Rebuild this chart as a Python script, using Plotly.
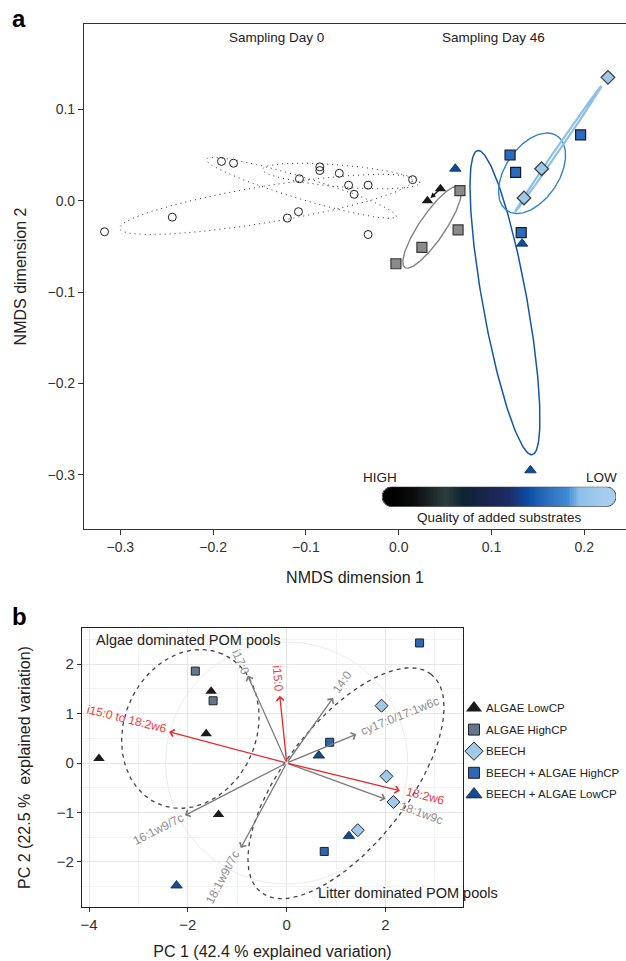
import numpy as np
import plotly.graph_objects as go

W, H = 626, 961
FONT = "Liberation Sans, Arial, sans-serif"

# ---------------- Panel a : NMDS ----------------
day0_x = [-0.317, -0.244, -0.191, -0.178, -0.085, -0.085, -0.064, -0.107, -0.054, -0.033, -0.048, 0.015, -0.108, -0.120, -0.033]
day0_y = [-0.034, -0.018, 0.043, 0.041, 0.037, 0.033, 0.030, 0.024, 0.017, 0.017, 0.007, 0.023, -0.012, -0.019, -0.037]

a_algae_low_x = [0.031, 0.045]
a_algae_low_y = [0.000, 0.013]
a_algae_high_x = [0.066, 0.064, 0.025, -0.003]
a_algae_high_y = [0.011, -0.032, -0.051, -0.069]
a_beech_x = [0.2255, 0.154, 0.135]
a_beech_y = [0.135, 0.035, 0.003]
a_mix_high_x = [0.120, 0.126, 0.132, 0.196]
a_mix_high_y = [0.050, 0.031, -0.035, 0.072]
a_mix_low_x = [0.061, 0.133, 0.142]
a_mix_low_y = [0.035, -0.047, -0.295]

# ellipses: centre x, centre y, semi-major, semi-minor, angle (deg)
day0_ellipses = [(-0.143, -0.004, 0.160, 0.020, 9.5),
                 (-0.105, 0.014, 0.107, 0.012, -17.0),
                 (-0.062, 0.027, 0.085, 0.012, -5.0)]
ell_algae_high = (0.036, -0.029, 0.053, 0.014, 56.4)
ell_mix_low = (0.1145, -0.1115, 0.169, 0.024, 100.0)
ell_mix_high = (0.1437, 0.030, 0.049, 0.029, 57.0)
ell_beech = (0.172, 0.0568, 0.083, 0.002, 55.9)

x_ticks_a = [-0.3, -0.2, -0.1, 0.0, 0.1, 0.2]
x_labels_a = ["\u22120.3", "\u22120.2", "\u22120.1", "0.0", "0.1", "0.2"]
y_ticks_a = [-0.3, -0.2, -0.1, 0.0, 0.1]
y_labels_a = ["\u22120.3", "\u22120.2", "\u22120.1", "0.0", "0.1"]

quality_stops = [0.0, 0.10, 0.25, 0.33, 0.45, 0.55, 0.64, 0.73, 0.82, 0.88, 1.0]
quality_colors = ["#000000", "#0b0c0c", "#2c3e3e", "#0c2331", "#1a2550", "#1e2c68",
                  "#0b4fa5", "#2e6ebe", "#3d8ad2", "#8ec0ea", "#a7ceee"]

# ---------------- Panel b : PCA ----------------
b_algae_low_x = [-3.80, -1.53, -1.63, -1.38]
b_algae_low_y = [0.09, 1.45, 0.59, -1.04]
b_algae_high_x = [-1.85, -1.49]
b_algae_high_y = [1.86, 1.26]
b_beech_x = [1.92, 2.02, 2.16, 1.44]
b_beech_y = [1.16, -0.27, -0.79, -1.36]
b_mix_high_x = [2.69, 0.87, 0.76]
b_mix_high_y = [2.43, 0.42, -1.79]
b_mix_low_x = [0.65, 1.26, -2.23]
b_mix_low_y = [0.15, -1.48, -2.48]

load_names = ["i17:0", "14:0", "cy17:0/17:1w6c", "18:1w9c", "16:1w9/7c", "18:1w9t/7c",
              "i15:0", "18:2w6", "i15:0 to 18:2w6"]
load_x = [-0.79, 0.94, 1.41, 2.00, -2.06, -0.93, -0.14, 2.29, -2.38]
load_y = [1.77, 1.32, 0.58, -0.73, -1.06, -1.72, 1.36, -0.56, 0.63]
load_red = [False, False, False, False, False, False, True, True, True]

ell_algae_pool = (-1.95, 0.69, 1.65, 1.34, 67.0)
ell_litter_pool = (1.20, -0.41, 2.80, 1.25, 52.0)
corr_radius = 2.45

x_ticks_b = [-4, -2, 0, 2]
x_labels_b = ["\u22124", "\u22122", "0", "2"]
y_ticks_b = [-2, -1, 0, 1, 2]
y_labels_b = ["\u22122", "\u22121", "0", "1", "2"]

legend_names = ["ALGAE LowCP", "ALGAE HighCP", "BEECH", "BEECH + ALGAE HighCP", "BEECH + ALGAE LowCP"]


def ellipse(p, n=241):
    cx, cy, a, b, deg = p
    t = np.linspace(0, 2 * np.pi, n)
    th = np.deg2rad(deg)
    x = cx + a * np.cos(t) * np.cos(th) - b * np.sin(t) * np.sin(th)
    y = cy + a * np.cos(t) * np.sin(th) + b * np.sin(t) * np.cos(th)
    return x, y


def px(xp):
    return xp / W


def py(yp):
    return 1 - yp / H


fig = go.Figure()

# ---- panel a traces ----
for p in day0_ellipses:
    ex, ey = ellipse(p)
    fig.add_trace(go.Scatter(x=ex, y=ey, mode="lines", line=dict(color="#333333", width=1, dash="1px,4px"),
                             hoverinfo="skip", showlegend=False, xaxis="x", yaxis="y"))
fig.add_trace(go.Scatter(x=day0_x, y=day0_y, mode="markers", showlegend=False,
                         marker=dict(symbol="circle-open", size=8, color="#222222", line=dict(width=1)),
                         xaxis="x", yaxis="y"))

for p, col, w in [(ell_algae_high, "#858585", 1.4), (ell_mix_low, "#1457a8", 1.5),
                  (ell_mix_high, "#2f82cc", 1.4), (ell_beech, "#8ebfe8", 2.2)]:
    ex, ey = ellipse(p)
    fig.add_trace(go.Scatter(x=ex, y=ey, mode="lines", line=dict(color=col, width=w),
                             hoverinfo="skip", showlegend=False, xaxis="x", yaxis="y"))

fig.add_trace(go.Scatter(x=a_algae_high_x, y=a_algae_high_y, mode="markers", showlegend=False,
                         marker=dict(symbol="square", size=10, color="#8a8a8a", line=dict(color="#3a3a3a", width=1.2))))
fig.add_trace(go.Scatter(x=a_mix_high_x, y=a_mix_high_y, mode="markers", showlegend=False,
                         marker=dict(symbol="square", size=10, color="#2a6bbf", line=dict(color="#1a1a1a", width=1.2))))
fig.add_trace(go.Scatter(x=a_beech_x, y=a_beech_y, mode="markers", showlegend=False,
                         marker=dict(symbol="diamond", size=10.5, color="#9ecae9", line=dict(color="#3a3a3a", width=1.2))))
fig.add_trace(go.Scatter(x=a_mix_low_x, y=a_mix_low_y, mode="markers", showlegend=False,
                         marker=dict(symbol="triangle-up", size=10, color="#0e4d9c", line=dict(color="#0a2a55", width=0.8))))
fig.add_trace(go.Scatter(x=a_algae_low_x, y=a_algae_low_y, mode="markers", showlegend=False,
                         marker=dict(symbol="triangle-up", size=10, color="#1a1a1a", line=dict(width=0))))

# ---- gradient bar (quality of added substrates) ----
nbar = 120
fig.add_trace(go.Heatmap(z=[list(np.linspace(0, 1, nbar))], x0=392 + 214 / nbar / 2, dx=214 / nbar,
                         y0=496.7, dy=20, colorscale=[[s, c] for s, c in zip(quality_stops, quality_colors)],
                         zmin=0, zmax=1, showscale=False, hoverinfo="skip", xaxis="x3", yaxis="y3"))

# ---- panel b traces ----
cx_, cy_ = ellipse((0, 0, corr_radius, corr_radius, 0))
fig.add_trace(go.Scatter(x=cx_, y=cy_, mode="lines", line=dict(color="#ececec", width=1),
                         hoverinfo="skip", showlegend=False, xaxis="x2", yaxis="y2"))
for p in [ell_algae_pool, ell_litter_pool]:
    ex, ey = ellipse(p)
    fig.add_trace(go.Scatter(x=ex, y=ey, mode="lines", line=dict(color="#444444", width=1.3, dash="4px,4px"),
                             hoverinfo="skip", showlegend=False, xaxis="x2", yaxis="y2"))

b_specs = [
    (b_algae_low_x, b_algae_low_y, "triangle-up", 10, 14, "#1a1a1a", "#1a1a1a", 0),
    (b_algae_high_x, b_algae_high_y, "square", 8, 11, "#65768c", "#222222", 1),
    (b_beech_x, b_beech_y, "diamond", 10, 14, "#a2c9ea", "#222222", 1),
    (b_mix_high_x, b_mix_high_y, "square", 8, 11, "#2d67b2", "#222222", 1),
    (b_mix_low_x, b_mix_low_y, "triangle-up", 10, 14, "#174b8c", "#0c2446", 0.8),
]
for name, (xs, ys, sym, sz, lsz, col, lc, lw) in zip(legend_names, b_specs):
    fig.add_trace(go.Scatter(x=xs, y=ys, mode="markers", name=name, showlegend=False,
                             marker=dict(symbol=sym, size=sz, color=col, line=dict(color=lc, width=lw)),
                             xaxis="x2", yaxis="y2"))

# ---- key for panel b (markers on a small axis of its own, labels as annotations) ----
key_y = [708 + 21.6 * i for i in range(len(legend_names))]
for name, yk, (xs, ys, sym, sz, lsz, col, lc, lw) in zip(legend_names, key_y, b_specs):
    fig.add_trace(go.Scatter(x=[474], y=[yk], mode="markers", name=name, showlegend=False,
                             marker=dict(symbol=sym, size=lsz, color=col, line=dict(color=lc, width=lw)),
                             cliponaxis=False, hoverinfo="skip", xaxis="x4", yaxis="y4"))

# ---------------- annotations ----------------
ann = []
for name, yk in zip(legend_names, key_y):
    ann.append(dict(x=484, y=yk, xref="x4", yref="y4", text=name, showarrow=False, xanchor="left",
                    yanchor="middle", font=dict(size=11.5, color="#222222", family=FONT)))

# arrow between the two ALGAE LowCP points (panel a)
ann.append(dict(x=a_algae_low_x[0], y=a_algae_low_y[0], ax=a_algae_low_x[1], ay=a_algae_low_y[1],
                xref="x", yref="y", axref="x", ayref="y", text="", showarrow=True,
                arrowhead=2, arrowsize=0.8, arrowwidth=1.3, arrowcolor="#111111", standoff=4))

# loadings (panel b)
label_pos = {
    "i17:0": (-0.93, 2.05, 66), "i15:0": (-0.17, 1.71, 85), "14:0": (1.13, 1.63, -55),
    "cy17:0/17:1w6c": (2.29, 0.96, -22), "18:2w6": (2.81, -0.66, 14), "18:1w9c": (2.72, -1.02, 20),
    "i15:0 to 18:2w6": (-3.24, 0.89, 14), "16:1w9/7c": (-2.59, -1.34, -27), "18:1w9t/7c": (-1.30, -2.30, -62),
}
for nm, lx, ly, red in zip(load_names, load_x, load_y, load_red):
    col = "#e8262b" if red else "#7a7a7a"
    ann.append(dict(x=lx, y=ly, ax=0, ay=0, xref="x2", yref="y2", axref="x2", ayref="y2", text="",
                    showarrow=True, arrowhead=4, arrowsize=1.1, arrowwidth=1.3, arrowcolor=col))
for nm, red in zip(load_names, load_red):
    tx, ty, ang = label_pos[nm]
    ann.append(dict(x=tx, y=ty, xref="x2", yref="y2", text=nm, showarrow=False, textangle=ang,
                    font=dict(size=12, color="#f03a3a" if red else "#8f8f8f", family=FONT)))

def txt(s, x, y, size, color="#222222", **kw):
    d = dict(text=s, x=px(x), y=py(y), xref="paper", yref="paper", showarrow=False,
             font=dict(size=size, color=color, family=FONT), xanchor="center", yanchor="middle")
    d.update(kw)
    return d

ann += [
    txt("<b>a</b>", 19, 19, 24, "#000000"),
    txt("<b>b</b>", 19, 616, 24, "#000000"),
    txt("Sampling Day 0", 276, 38, 13.5),
    txt("Sampling Day 46", 493, 37, 13.5),
    txt("HIGH", 380, 477, 13.5),
    txt("LOW", 601, 477, 13.5),
    txt("Quality of added substrates", 499, 517, 13.5),
    txt("Algae dominated POM pools", 188, 640, 14.5),
    txt("Litter dominated POM pools", 408, 893, 14.5),
]

# ---------------- shapes (gradient bar caps and outline) ----------------
def bar_path(x0, x1, y0, y1):
    r = (y1 - y0) / 2
    k = 0.5523 * r
    ym = (y0 + y1) / 2
    return (f"M{x0},{y0} L{x1},{y0} C{x1 + k},{y0} {x1 + r},{ym - k} {x1 + r},{ym} "
            f"C{x1 + r},{ym + k} {x1 + k},{y1} {x1},{y1} L{x0},{y1} "
            f"C{x0 - k},{y1} {x0 - r},{ym + k} {x0 - r},{ym} C{x0 - r},{ym - k} {x0 - k},{y0} {x0},{y0} Z")

def half_disk(xc, y0, y1, side):
    r = (y1 - y0) / 2
    k = 0.5523 * r
    ym = (y0 + y1) / 2
    s = -1 if side == "left" else 1
    return (f"M{xc},{y0} C{xc + s * k},{y0} {xc + s * r},{ym - k} {xc + s * r},{ym} "
            f"C{xc + s * r},{ym + k} {xc + s * k},{y1} {xc},{y1} Z")

shapes = [
    dict(type="path", path=half_disk(392.5, 486.7, 506.7, "left"), xref="x3", yref="y3",
         fillcolor=quality_colors[0], line=dict(width=0)),
    dict(type="path", path=half_disk(605.5, 486.7, 506.7, "right"), xref="x3", yref="y3",
         fillcolor=quality_colors[-1], line=dict(width=0)),
    dict(type="path", path=bar_path(392, 606, 486.7, 506.7), xref="x3", yref="y3",
         line=dict(color="#3a3a3a", width=1)),
]

axis_font = dict(size=14, color="#333333", family=FONT)
fig.update_layout(
    width=W, height=H, margin=dict(l=0, r=0, t=0, b=0, autoexpand=False),
    paper_bgcolor="white", plot_bgcolor="white",
    font=dict(family=FONT, color="#222222"),
    showlegend=False,
    xaxis=dict(domain=[px(84), 1.0], range=[(84 - 398.7) / 928, (626 - 398.7) / 928],
               tickvals=x_ticks_a, ticktext=x_labels_a, ticks="outside", ticklen=5, tickcolor="#333333",
               showline=True, linecolor="#333333", linewidth=1.2, mirror=True, showgrid=False, zeroline=False,
               tickfont=axis_font, title=dict(text="NMDS dimension 1", font=dict(size=16, color="#222222"), standoff=17),
               anchor="y"),
    yaxis=dict(domain=[py(529), py(24)], range=[-(529 - 200.7) / 914, (200.7 - 24) / 914],
               tickvals=y_ticks_a, ticktext=y_labels_a, ticks="outside", ticklen=5, tickcolor="#333333",
               showline=True, linecolor="#333333", linewidth=1.2, showgrid=False, zeroline=False,
               tickfont=axis_font, title=dict(text="NMDS dimension 2", font=dict(size=16, color="#222222"), standoff=16),
               anchor="x"),
    xaxis2=dict(domain=[px(82), px(463)], range=[(82 - 286.7) / 49.4, (463 - 286.7) / 49.4],
                tickvals=x_ticks_b, ticktext=x_labels_b, ticks="outside", ticklen=4, tickcolor="#333333",
                showline=True, linecolor="#222222", linewidth=1.2, mirror=True, zeroline=False,
                showgrid=True, gridcolor="#e6e6e6", gridwidth=1,
                minor=dict(tickvals=[-3, -1, 1, 3], showgrid=True, gridcolor="#f3f3f3", gridwidth=0.6),
                tickfont=dict(size=15, color="#333333", family=FONT),
                title=dict(text="PC 1 (42.4 % explained variation)", font=dict(size=16, color="#222222"), standoff=13),
                anchor="y2"),
    yaxis2=dict(domain=[py(907), py(628)], range=[-(907 - 763) / 49.4, (763 - 628) / 49.4],
                tickvals=y_ticks_b, ticktext=y_labels_b, ticks="outside", ticklen=4, tickcolor="#333333",
                showline=True, linecolor="#222222", linewidth=1.2, mirror=True, zeroline=False,
                showgrid=True, gridcolor="#e6e6e6", gridwidth=1,
                minor=dict(tickvals=[-2.5, -1.5, -0.5, 0.5, 1.5, 2.5], showgrid=True, gridcolor="#f3f3f3", gridwidth=0.6),
                tickfont=dict(size=15, color="#333333", family=FONT),
                title=dict(text="PC 2 (22.5 %  explained variation)", font=dict(size=16, color="#222222"), standoff=22),
                anchor="x2"),
    xaxis3=dict(domain=[px(382), px(616)], range=[382, 616], visible=False, fixedrange=True, anchor="y3"),
    yaxis3=dict(domain=[py(506.7), py(486.7)], range=[506.7, 486.7], visible=False, fixedrange=True, anchor="x3"),
    xaxis4=dict(domain=[px(466), 1.0], range=[466, 626], visible=False, fixedrange=True, anchor="y4"),
    yaxis4=dict(domain=[py(810), py(695)], range=[810, 695], visible=False, fixedrange=True, anchor="x4"),
    annotations=ann,
    shapes=shapes,
)

fig.write_html("out.html")
